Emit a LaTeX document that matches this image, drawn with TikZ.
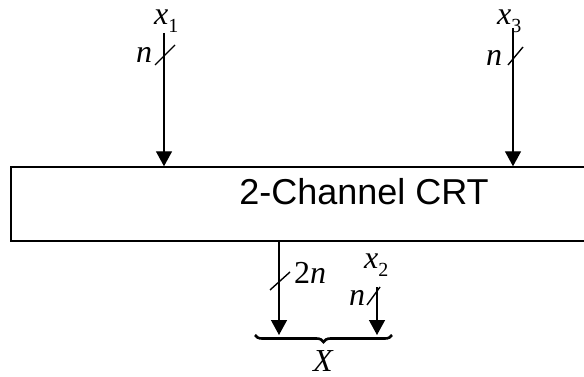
\documentclass[tikz,border=0pt]{standalone}
\usepackage{fontspec}
\setmainfont{Liberation Serif}
\setsansfont{Liberation Sans}
\usetikzlibrary{arrows.meta,positioning,calc,decorations.pathreplacing}
\newcommand{\sig}[2]{\textit{#1}\raisebox{-8pt}{\fontsize{20}{20}\selectfont #2}}
\tikzset{
  crt box/.style={draw,line width=1.4pt,minimum width=628pt,minimum height=74pt,inner sep=0pt},
  crt label/.style={font=\sffamily\fontsize{36}{40}\selectfont,inner sep=0pt},
  var label/.style={font=\fontsize{32}{36}\selectfont,inner sep=0pt,anchor=base west},
  bus arrow/.style={-{Triangle[length=15pt,width=16pt]},line width=1.4pt},
  bus slash/.style={line width=1.4pt},
  bus brace/.style={decorate,decoration={brace,amplitude=7pt},line width=2.6pt}
}
\begin{document}
\begin{tikzpicture}[x=1pt,y=-1pt]
        \useasboundingbox (0,0) rectangle (584,377);
        \node[crt box] (crt) at (325,204) {};
        \node[crt label] (crttext) at (364,192) {2-Channel CRT};
        \coordinate (x1top) at (164,33);
        \coordinate (x3top) at (513,28);
        \coordinate (x2top) at (377,287);
        \coordinate (yout) at (279,335);
        \coordinate (bl) at (255,335);
        \coordinate (br) at (392,335);
        \draw[bus arrow] (x1top) -- (x1top |- crt.north);
        \draw[bus arrow] (x3top) -- (x3top |- crt.north);
        \draw[bus arrow] (yout |- crt.south) -- (yout);
        \draw[bus arrow] (x2top) -- (x2top |- yout);
        \draw[bus slash] ($(x1top)+(-9,32)$) -- ++(20,-20);
        \draw[bus slash] ($(x3top)+(-5,37)$) -- ++(15,-18);
        \draw[bus slash] ($(yout)+(-9,-45)$) -- ++(20,-18);
        \draw[bus slash] ($(x2top)+(-10,18)$) -- ++(13,-18);
        \draw[bus brace] (br) -- (bl);
        \node[var label] (x1) at (154,25) {\sig{x}{1}};
        \node[var label] (n1) at (136,63) {\textit{n}};
        \node[var label] (x3) at (497,25) {\sig{x}{3}};
        \node[var label] (n3) at (486,66) {\textit{n}};
        \node[var label] (w2n) at (294,283) {2\textit{n}};
        \node[var label] (x2) at (364,268) {\sig{x}{2}};
        \node[var label] (n2) at (349,305) {\textit{n}};
        \node[var label] (xout) at (313,371) {\textit{X}};
      \end{tikzpicture}
\end{document}
